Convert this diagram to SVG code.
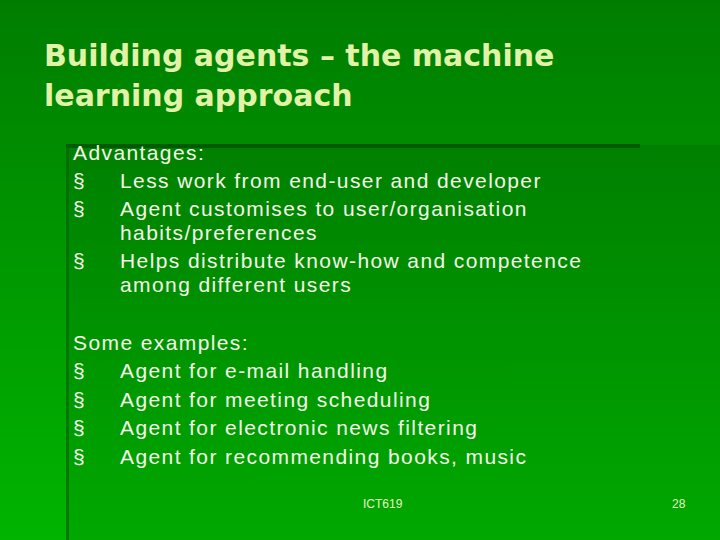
<svg xmlns="http://www.w3.org/2000/svg" width="720" height="540" viewBox="0 0 720 540">
<defs>
<linearGradient id="bg" x1="0" y1="0" x2="0" y2="1"><stop offset="0" stop-color="#007d00"/><stop offset="1" stop-color="#00b400"/></linearGradient>
<linearGradient id="panel" x1="0" y1="0" x2="0" y2="1"><stop offset="0" stop-color="#007800"/><stop offset="1" stop-color="#00a000"/></linearGradient>
<style>
.t{font-family:"DejaVu Sans",Verdana,sans-serif;font-size:30px;font-weight:bold;fill:#e2f2a8}
.b{font-family:"Liberation Sans",Arial,sans-serif;font-size:21px;letter-spacing:1.4px;fill:#f4f8e8}
.f{font-family:"Liberation Sans",Arial,sans-serif;font-size:12px;fill:#e6f5c0}
</style>
</defs>
<rect width="720" height="540" fill="url(#bg)"/>
<rect x="66" y="145" width="654" height="395" fill="url(#panel)" opacity="0.6"/>
<rect x="66" y="144" width="574" height="4" fill="#005a00"/>
<rect x="66" y="144" width="3" height="396" fill="#006800" opacity="0.7"/>
<g id="title"><text class="t" x="44" y="66">Building agents – the machine</text><text class="t" x="44" y="106">learning approach</text></g>
<g id="body">
<text class="b" x="73" y="160">Advantages:</text>
<text class="b" x="73" y="188">§</text><text class="b" x="120" y="188">Less work from end-user and developer</text>
<text class="b" x="73" y="216">§</text><text class="b" x="120" y="216">Agent customises to user/organisation</text>
<text class="b" x="120" y="240">habits/preferences</text>
<text class="b" x="73" y="268">§</text><text class="b" x="120" y="268">Helps distribute know-how and competence</text>
<text class="b" x="120" y="292">among different users</text>
<text class="b" x="73" y="350">Some examples:</text>
<text class="b" x="73" y="378">§</text><text class="b" x="120" y="378">Agent for e-mail handling</text>
<text class="b" x="73" y="407">§</text><text class="b" x="120" y="407">Agent for meeting scheduling</text>
<text class="b" x="73" y="435">§</text><text class="b" x="120" y="435">Agent for electronic news filtering</text>
<text class="b" x="73" y="464">§</text><text class="b" x="120" y="464">Agent for recommending books, music</text>
</g>
<g id="footer"><text class="f" x="363" y="508">ICT619</text><text class="f" x="672" y="508">28</text></g>
</svg>
